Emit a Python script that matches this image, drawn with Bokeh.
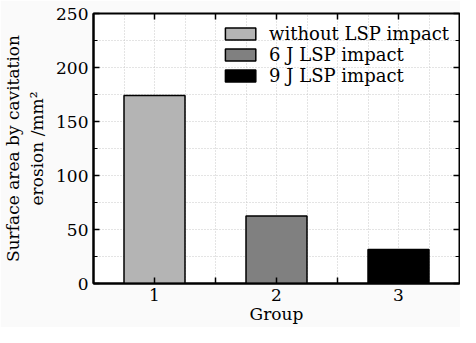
from bokeh.plotting import figure
from bokeh.models import ColumnDataSource, Range1d, FixedTicker, LinearAxis, Legend
from bokeh.embed import file_html
from bokeh.resources import INLINE

groups = [1, 2, 3]
values = [174, 62.5, 31.5]
labels = ["without LSP impact", "6 J LSP impact", "9 J LSP impact"]
colors = ["#b4b4b4", "#808080", "#000000"]
x_major = [1, 1.5, 2, 2.5, 3]
x_minor = [0.75, 1.25, 1.75, 2.25, 2.75, 3.25]
y_major = [0, 50, 100, 150, 200, 250]
y_minor = [25, 75, 125, 175, 225]

FONT = "DejaVu Serif"

src = ColumnDataSource(dict(x=groups, top=values, label=labels, color=colors))

p = figure(width=460, height=327, output_backend="svg", toolbar_location=None,
           x_range=Range1d(0.5, 3.5), y_range=Range1d(0, 250),
           min_border_left=93, min_border_right=1, min_border_top=13, min_border_bottom=44)
p.border_fill_color = "#fafafa"
p.background_fill_color = "white"
p.outline_line_color = "black"
p.outline_line_width = 2

r = p.vbar(x="x", top="top", width=0.5, source=src, fill_color="color",
           line_color="black", line_width=1.5, legend_field="label")

xt = FixedTicker(ticks=x_major, minor_ticks=x_minor)
yt = FixedTicker(ticks=y_major, minor_ticks=y_minor)
p.xaxis.ticker = xt
p.yaxis.ticker = yt
p.xaxis.major_label_overrides = {1.5: "", 2.5: ""}

for ax in (p.xaxis, p.yaxis):
    ax.axis_line_color = "black"
    ax.axis_line_width = 2
    ax.major_tick_in = 6
    ax.major_tick_out = 0
    ax.major_tick_line_width = 1.5
    ax.minor_tick_in = 4
    ax.minor_tick_out = 0
    ax.major_label_text_font = FONT
    ax.major_label_text_font_size = "17px"
    ax.major_label_text_font_style = "normal"
    ax.major_label_text_color = "black"
    ax.axis_label_text_font = FONT
    ax.axis_label_text_font_size = "17px"
    ax.axis_label_text_font_style = "normal"
    ax.axis_label_text_color = "black"
p.xaxis.minor_tick_in = 0
p.xaxis.axis_label = "Group"
p.xaxis.axis_label_standoff = 0
p.xaxis.major_label_standoff = 5
p.yaxis.axis_label = "Surface area by cavitation\nerosion /mm\u00b2"
p.yaxis.axis_label_standoff = 6
p.yaxis.major_label_standoff = 5

for loc in ("right", "above"):
    ax = LinearAxis(ticker=yt if loc == "right" else xt)
    ax.axis_line_color = None
    ax.major_tick_in = 6
    ax.major_tick_out = 0
    ax.minor_tick_in = 4 if loc == "right" else 0
    ax.minor_tick_out = 0
    ax.major_tick_line_width = 1.5
    ax.major_label_text_font_size = "1px"
    ax.major_label_text_alpha = 0
    ax.major_label_standoff = 0
    p.add_layout(ax, loc)

p.xgrid.ticker = xt
p.ygrid.ticker = yt
for g in (p.xgrid, p.ygrid):
    g.grid_line_color = "#c8c8c8"
    g.grid_line_dash = "1 2"
    g.grid_line_width = 1
    g.minor_grid_line_color = "#c8c8c8"
    g.minor_grid_line_dash = "1 2"
    g.minor_grid_line_width = 1

lg = p.legend[0]
lg.location = "top_right"
lg.border_line_color = None
lg.background_fill_alpha = 0
lg.label_text_font = FONT
lg.label_text_font_style = "normal"
lg.label_text_font_size = "18px"
lg.label_text_color = "black"
lg.glyph_width = 38
lg.glyph_height = 15
lg.spacing = 0
lg.padding = 0
lg.margin = 10
lg.label_standoff = 10
lg.label_height = 15

open("out.html", "w").write(file_html(p, INLINE))
